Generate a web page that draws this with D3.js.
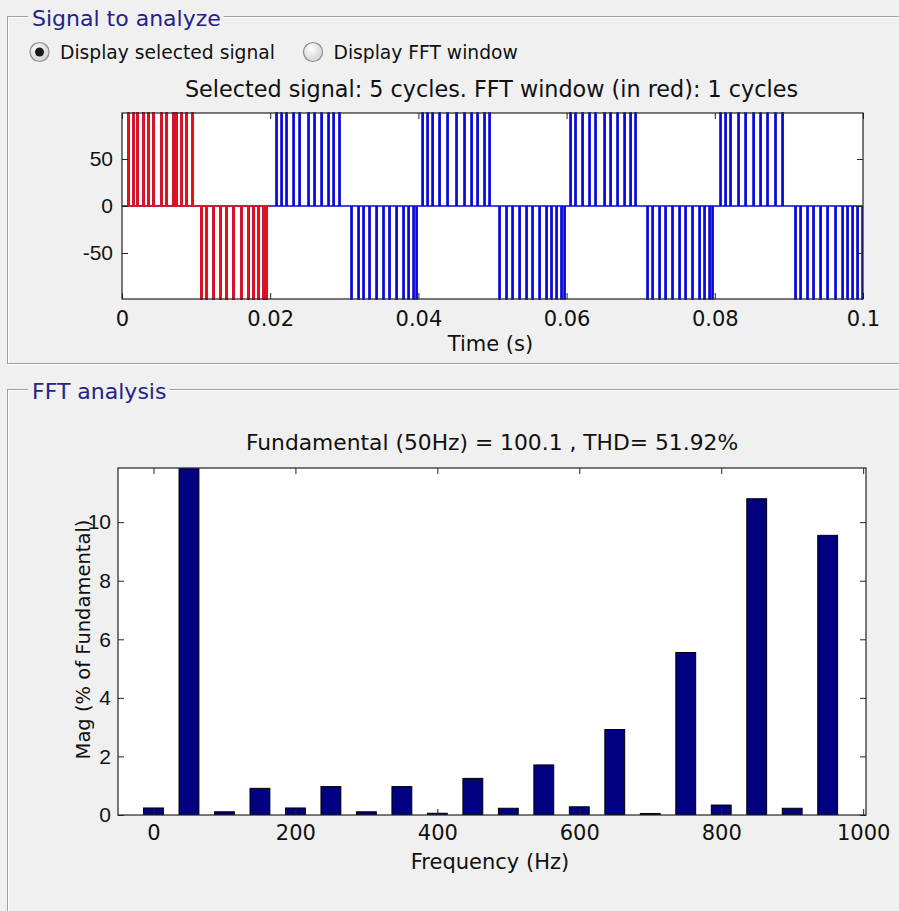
<!DOCTYPE html>
<html>
<head>
<meta charset="utf-8">
<script src="https://cdn.jsdelivr.net/npm/d3@7"></script>
<style>
  html, body { margin: 0; padding: 0; background: #f0f0f0; }
  svg { display: block; font-family: 'DejaVu Sans', sans-serif; }
</style>
</head>
<body>
<svg id="chart"></svg>
<script>
// --- signal to analyze: pulse onsets (ms), 5 cycles of 50 Hz
const posPulses = [
  0.81, 1.48, 2.02, 2.83, 3.51, 4.18, 5.26, 5.94, 6.88, 7.29, 7.96, 8.64, 9.45,
  20.78, 21.46, 22.13, 23.08, 23.89, 25.10, 25.91, 26.86, 27.80, 28.48, 29.28,
  40.49, 41.16, 41.84, 42.78, 43.86, 45.07, 46.15, 47.10, 47.91, 48.85, 49.53,
  60.46, 61.13, 62.08, 63.02, 63.83, 65.05, 65.86, 66.80, 67.75, 68.56, 69.23,
  80.70, 81.38, 82.05, 83.13, 84.08, 85.16, 86.10, 87.04, 88.12, 89.07
]
const negPulses = [
  10.66, 11.34, 12.28, 13.23, 14.04, 14.98, 16.06, 17.00, 17.68, 18.35, 19.03, 19.43,
  30.90, 31.85, 32.52, 33.33, 34.28, 35.22, 36.03, 36.98, 37.92, 38.60, 39.27, 39.68,
  50.88, 51.82, 52.63, 53.58, 54.52, 55.33, 56.28, 57.22, 57.89, 58.57, 59.24, 59.65,
  70.85, 71.53, 72.47, 73.28, 74.22, 75.17, 75.98, 76.92, 77.87, 78.54, 79.22, 79.62,
  90.82, 91.50, 92.44, 93.25, 94.20, 95.14, 96.22, 97.17, 97.84, 98.52, 99.19, 99.87
]
const pulseWidth = 0.15   // ms
const amplitude = 99
const signalEnd = 100     // ms
const fftWindowEnd = 20   // ms (1 cycle, drawn in red)
const timeTicks = [0, 20, 40, 60, 80, 100]
const signalTicks = [-50, 0, 50]

// --- FFT analysis
const freqs = [0, 50, 100, 150, 200, 250, 300, 350, 400, 450, 500, 550, 600, 650, 700, 750, 800, 850, 900, 950]
const mags = [0.24, 100, 0.11, 0.91, 0.24, 0.97, 0.11, 0.97, 0.06, 1.25, 0.23, 1.71, 0.28, 2.92, 0.05, 5.55, 0.34, 10.8, 0.23, 9.55]
const freqTicks = [0, 200, 400, 600, 800, 1000]
const magTicks = [0, 2, 4, 6, 8, 10]
const magMax = 11.85
const barWidthHz = 28

const width = 899
const height = 911
const bg = '#f0f0f0'
const navy = '#232388'

const svg = d3.select('#chart').attr('width', width).attr('height', height)
svg.append('rect').attr('width', width).attr('height', height).attr('fill', bg)
const defs = svg.append('defs')

// etched group box like the matlab gui panels
function groupBox(y0, y1, title) {
  const g = svg.append('g')
  g.append('rect')
    .attr('x', 8.5).attr('y', y0 + 0.5)
    .attr('width', 940).attr('height', y1 - y0)
    .attr('fill', 'none').attr('stroke', '#ffffff')
  g.append('rect')
    .attr('x', 7.5).attr('y', y0 - 0.5)
    .attr('width', 940).attr('height', y1 - y0)
    .attr('fill', 'none').attr('stroke', '#a0a0a0')
  const t = g.append('text')
    .attr('x', 32).attr('y', y0 + 9)
    .attr('font-size', 22).attr('fill', navy)
    .text(title)
  const bb = t.node().getBBox()
  g.insert('rect', 'text')
    .attr('x', bb.x - 4).attr('y', y0 - 3)
    .attr('width', bb.width + 7).attr('height', 6)
    .attr('fill', bg)
}

groupBox(17, 364, 'Signal to analyze')
groupBox(390, 1100, 'FFT analysis')

// radio buttons
const radios = [
  { cx: 39.5, label: 'Display selected signal', on: true },
  { cx: 313, label: 'Display FFT window', on: false },
]
const grad = defs.append('radialGradient').attr('id', 'radioFill').attr('cx', '40%').attr('cy', '35%')
grad.append('stop').attr('offset', '0%').attr('stop-color', '#ffffff')
grad.append('stop').attr('offset', '100%').attr('stop-color', '#dcdcdc')

const radioG = svg.append('g')
radios.forEach((r) => {
  radioG.append('circle').attr('cx', r.cx).attr('cy', 52).attr('r', 9.5)
    .attr('fill', 'url(#radioFill)').attr('stroke', '#8c8c8c').attr('stroke-width', 1.2)
  if (r.on) radioG.append('circle').attr('cx', r.cx).attr('cy', 52).attr('r', 4.5).attr('fill', '#1a1a1a')
  radioG.append('text').attr('x', r.cx + 20.5).attr('y', 59)
    .attr('font-size', 18.7).attr('fill', '#111').text(r.label)
})

function styleAxis(g, family) {
  g.select('.domain').remove()
  g.selectAll('line').attr('stroke', '#222')
  g.selectAll('text').attr('font-size', 21).attr('font-family', family || 'DejaVu Sans').attr('fill', '#111')
}

function drawFrame(x0, y0, x1, y1) {
  svg.append('rect')
    .attr('x', x0).attr('y', y0).attr('width', x1 - x0).attr('height', y1 - y0)
    .attr('fill', 'none').attr('stroke', '#222').attr('stroke-width', 1.2)
}

const plain = (d) => String(d)

// ---------------- signal plot ----------------
const sL = 122, sR = 863, sT = 113, sB = 299
const sx = d3.scaleLinear().domain([0, signalEnd]).range([sL, sR])
const sy = d3.scaleLinear().domain([-amplitude, amplitude]).range([sB, sT])

svg.append('rect').attr('x', sL).attr('y', sT).attr('width', sR - sL).attr('height', sB - sT).attr('fill', '#fff')
defs.append('clipPath').attr('id', 'sigClip')
  .append('rect').attr('x', sL).attr('y', sT - 1).attr('width', sR - sL).attr('height', sB - sT + 2)

function buildSignal(tMax) {
  const edges = []
  posPulses.filter((t) => t < tMax).forEach((t) => edges.push({ t, v: amplitude }))
  negPulses.filter((t) => t < tMax).forEach((t) => edges.push({ t, v: -amplitude }))
  edges.sort((a, b) => a.t - b.t)
  const pts = [[0, 0]]
  edges.forEach((e) => {
    pts.push([e.t, 0], [e.t, e.v], [e.t + pulseWidth, e.v], [e.t + pulseWidth, 0])
  })
  pts.push([tMax, 0])
  return pts
}

const sigLine = d3.line().x((d) => sx(d[0])).y((d) => sy(d[1]))
const sigG = svg.append('g').attr('clip-path', 'url(#sigClip)')
sigG.append('path').datum(buildSignal(signalEnd))
  .attr('d', sigLine).attr('fill', 'none').attr('stroke', '#0808dc').attr('stroke-width', 1.6)
sigG.append('path').datum(buildSignal(fftWindowEnd))
  .attr('d', sigLine).attr('fill', 'none').attr('stroke', '#ee1010').attr('stroke-width', 1.6)

const fmtSec = (d) => String(+(d / 1000).toFixed(2))
svg.append('g').attr('transform', `translate(0,${sB})`)
  .call(d3.axisBottom(sx).tickValues(timeTicks).tickFormat(fmtSec).tickSize(-6).tickPadding(12))
  .call((g) => styleAxis(g))
svg.append('g').attr('transform', `translate(0,${sT})`)
  .call(d3.axisTop(sx).tickValues(timeTicks).tickFormat('').tickSize(-6))
  .call((g) => styleAxis(g))
svg.append('g').attr('transform', `translate(${sL},0)`)
  .call(d3.axisLeft(sy).tickValues(signalTicks).tickFormat(plain).tickSize(-6).tickPadding(9))
  .call((g) => styleAxis(g, 'Liberation Sans'))
svg.append('g').attr('transform', `translate(${sR},0)`)
  .call(d3.axisRight(sy).tickValues(signalTicks).tickFormat('').tickSize(-6))
  .call((g) => styleAxis(g))
drawFrame(sL, sT, sR, sB)

svg.append('text').attr('x', (sL + sR) / 2 - 1).attr('y', 97)
  .attr('text-anchor', 'middle').attr('font-size', 22.3).attr('fill', '#111')
  .text('Selected signal: 5 cycles. FFT window (in red): 1 cycles')
svg.append('text').attr('x', (sL + sR) / 2 - 2).attr('y', 351)
  .attr('text-anchor', 'middle').attr('font-size', 21).attr('fill', '#111')
  .text('Time (s)')

// ---------------- FFT bar plot ----------------
const fL = 118, fR = 866, fT = 468, fB = 815
const fx = d3.scaleLinear().domain([-50, 1004]).range([fL, fR])
const fy = d3.scaleLinear().domain([0, magMax]).range([fB, fT])

svg.append('rect').attr('x', fL).attr('y', fT).attr('width', fR - fL).attr('height', fB - fT).attr('fill', '#fff')
defs.append('clipPath').attr('id', 'fftClip')
  .append('rect').attr('x', fL).attr('y', fT).attr('width', fR - fL).attr('height', fB - fT)

const bw = fx(barWidthHz) - fx(0)
svg.append('g').attr('clip-path', 'url(#fftClip)')
  .selectAll('rect')
  .data(freqs.map((f, i) => ({ f, m: mags[i] })))
  .join('rect')
  .attr('x', (d) => fx(d.f) - bw / 2)
  .attr('y', (d) => fy(d.m))
  .attr('width', bw)
  .attr('height', (d) => fy(0) - fy(d.m))
  .attr('fill', '#000080')
  .attr('stroke', '#000')
  .attr('stroke-width', 1)

svg.append('g').attr('transform', `translate(0,${fB})`)
  .call(d3.axisBottom(fx).tickValues(freqTicks).tickFormat(plain).tickSize(-6).tickPadding(10))
  .call((g) => styleAxis(g))
svg.append('g').attr('transform', `translate(0,${fT})`)
  .call(d3.axisTop(fx).tickValues(freqTicks).tickFormat('').tickSize(-6))
  .call((g) => styleAxis(g))
svg.append('g').attr('transform', `translate(${fL},0)`)
  .call(d3.axisLeft(fy).tickValues(magTicks).tickFormat(plain).tickSize(-6).tickPadding(7))
  .call((g) => styleAxis(g, 'Liberation Sans'))
svg.append('g').attr('transform', `translate(${fR},0)`)
  .call(d3.axisRight(fy).tickValues(magTicks).tickFormat('').tickSize(-6))
  .call((g) => styleAxis(g))
drawFrame(fL, fT, fR, fB)

svg.append('text').attr('x', (fL + fR) / 2).attr('y', 450)
  .attr('text-anchor', 'middle').attr('font-size', 21.8).attr('fill', '#111')
  .text('Fundamental (50Hz) = 100.1 , THD= 51.92%')
svg.append('text').attr('x', (fL + fR) / 2 - 2).attr('y', 869)
  .attr('text-anchor', 'middle').attr('font-size', 21).attr('fill', '#111')
  .text('Frequency (Hz)')
svg.append('text')
  .attr('transform', `translate(90,${(fT + fB) / 2 - 2}) rotate(-90)`)
  .attr('text-anchor', 'middle').attr('font-size', 19.5).attr('fill', '#111')
  .text('Mag (% of Fundamental)')
</script>
</body>
</html>
